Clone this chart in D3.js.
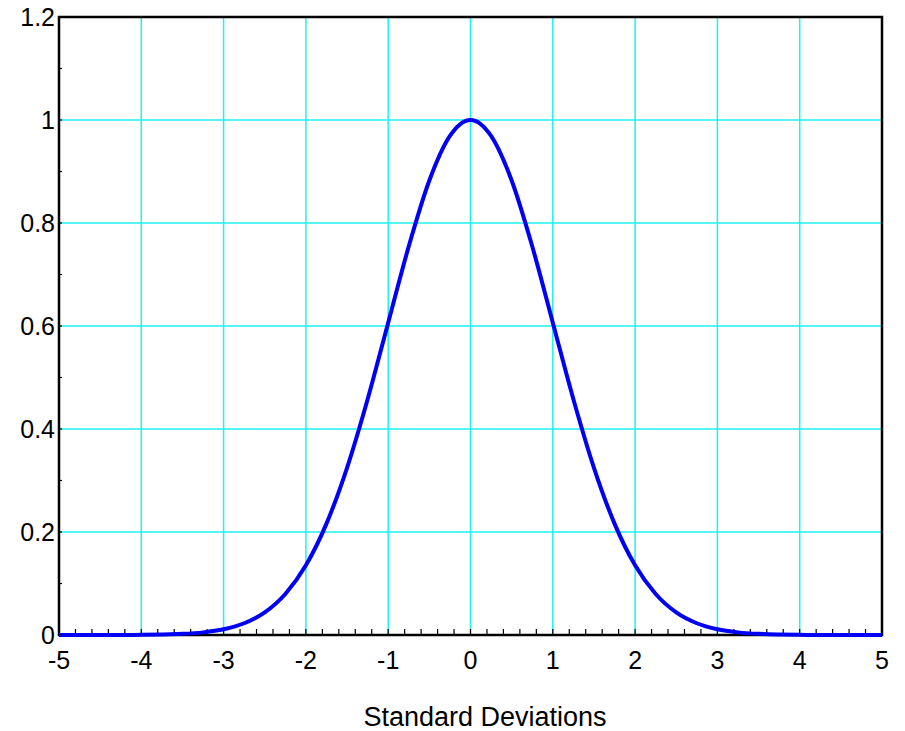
<!DOCTYPE html>
<html>
<head>
<meta charset="utf-8">
<script src="https://cdnjs.cloudflare.com/ajax/libs/d3/7.8.5/d3.min.js"></script>
<style>
  body { margin: 0; background: #fff; }
  text { font-family: "Liberation Sans", Arial, sans-serif; fill: #000; }
</style>
</head>
<body>
<div class="chart"></div>
<script>
var width = 905;
var height = 731;
var margin = {top: 17, right: 23, bottom: 96, left: 59};

// curve values
var xs = [-5, -4.75, -4.5, -4.25, -4, -3.75, -3.5, -3.25, -3, -2.75, -2.5, -2.25, -2, -1.75, -1.5, -1.25, -1, -0.75, -0.5, -0.25,
          0, 0.25, 0.5, 0.75, 1, 1.25, 1.5, 1.75, 2, 2.25, 2.5, 2.75, 3, 3.25, 3.5, 3.75, 4, 4.25, 4.5, 4.75, 5];
var ys = [0, 0, 0, 0, 0.0003, 0.0009, 0.0022, 0.0051, 0.0111, 0.0228, 0.0439, 0.0796, 0.1353, 0.2163, 0.3247, 0.4578, 0.6065, 0.7548, 0.8825, 0.969,
          1, 0.969, 0.8825, 0.7548, 0.6065, 0.4578, 0.3247, 0.2163, 0.1353, 0.0796, 0.0439, 0.0228, 0.0111, 0.0051, 0.0022, 0.0009, 0.0003, 0, 0, 0, 0];

var xTicks = [-5, -4, -3, -2, -1, 0, 1, 2, 3, 4, 5];
var xTickLabels = ["-5", "-4", "-3", "-2", "-1", "0", "1", "2", "3", "4", "5"];
var yTicks = [0, 0.2, 0.4, 0.6, 0.8, 1, 1.2];
var yTickLabels = ["0", "0.2", "0.4", "0.6", "0.8", "1", "1.2"];
var xMinor = d3.range(-50, 51, 2).map(function(d) { return d / 10; });
var yMinor = d3.range(0, 13, 1).map(function(d) { return d / 10; });
var xTitle = "Standard Deviations";

var svg = d3.select(".chart").append("svg")
    .attr("width", width)
    .attr("height", height);

var w = width - margin.left - margin.right;
var h = height - margin.top - margin.bottom;

var x = d3.scaleLinear().domain([-5, 5]).range([margin.left, margin.left + w]);
var y = d3.scaleLinear().domain([0, 1.2]).range([margin.top + h, margin.top]);

// grid
svg.append("g").selectAll("line")
    .data(xTicks.slice(1, -1))
    .enter().append("line")
    .attr("x1", function(d) { return x(d); })
    .attr("x2", function(d) { return x(d); })
    .attr("y1", margin.top)
    .attr("y2", margin.top + h)
    .attr("stroke", "#1ef2f2")
    .attr("stroke-width", 1.5);

svg.append("g").selectAll("line")
    .data(yTicks.slice(1, -1))
    .enter().append("line")
    .attr("x1", margin.left)
    .attr("x2", margin.left + w)
    .attr("y1", function(d) { return y(d); })
    .attr("y2", function(d) { return y(d); })
    .attr("stroke", "#1ef2f2")
    .attr("stroke-width", 1.5);

// minor ticks, pointing inward
svg.append("g").selectAll("line")
    .data(xMinor)
    .enter().append("line")
    .attr("x1", function(d) { return x(d); })
    .attr("x2", function(d) { return x(d); })
    .attr("y1", margin.top + h)
    .attr("y2", margin.top + h - 6)
    .attr("stroke", "#000")
    .attr("stroke-width", 1.2);

svg.append("g").selectAll("line")
    .data(yMinor)
    .enter().append("line")
    .attr("x1", margin.left)
    .attr("x2", margin.left + 3)
    .attr("y1", function(d) { return y(d); })
    .attr("y2", function(d) { return y(d); })
    .attr("stroke", "#000")
    .attr("stroke-width", 1.2);

// frame
svg.append("rect")
    .attr("x", margin.left)
    .attr("y", margin.top)
    .attr("width", w)
    .attr("height", h)
    .attr("fill", "none")
    .attr("stroke", "#000")
    .attr("stroke-width", 2.5);

// curve
var line = d3.line()
    .x(function(d, i) { return x(xs[i]); })
    .y(function(d) { return y(d); })
    .curve(d3.curveMonotoneX);

svg.append("path")
    .datum(ys)
    .attr("d", line)
    .attr("fill", "none")
    .attr("stroke", "#0000f5")
    .attr("stroke-width", 4);

// tick labels
svg.append("g").selectAll("text")
    .data(xTicks)
    .enter().append("text")
    .attr("x", function(d) { return x(d); })
    .attr("y", margin.top + h + 34)
    .attr("text-anchor", "middle")
    .style("font-size", "25px")
    .text(function(d, i) { return xTickLabels[i]; });

svg.append("g").selectAll("text")
    .data(yTicks)
    .enter().append("text")
    .attr("x", margin.left - 4)
    .attr("y", function(d) { return y(d) + 9; })
    .attr("text-anchor", "end")
    .style("font-size", "25px")
    .text(function(d, i) { return yTickLabels[i]; });

svg.append("text")
    .attr("x", 485)
    .attr("y", 726)
    .attr("text-anchor", "middle")
    .style("font-size", "27px")
    .text(xTitle);
</script>
</body>
</html>
